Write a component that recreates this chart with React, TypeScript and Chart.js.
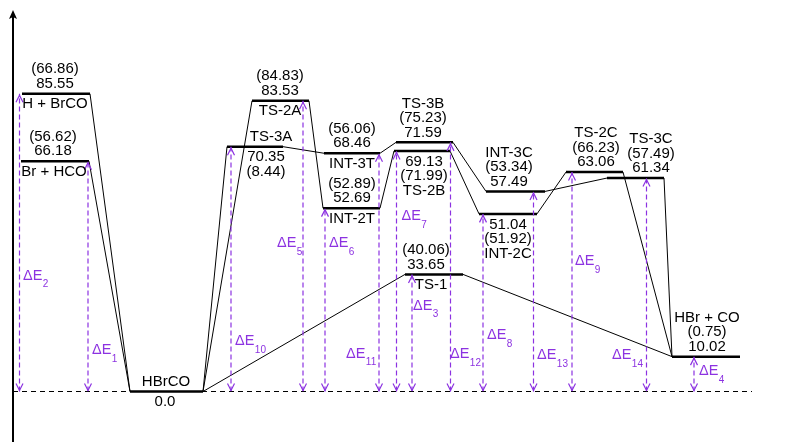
import React, { useEffect, useRef } from "react";
import { Chart, registerables } from "chart.js";
Chart.register(...registerables);

// ---- data ----
const levelNames = ["H + BrCO", "Br + HCO", "HBrCO", "TS-3A", "TS-2A", "INT-3T", "INT-2T", "TS-3B", "TS-2B", "TS-1", "INT-3C", "INT-2C", "TS-2C", "TS-3C", "HBr + CO"];
const levelStart = [22, 21, 130, 227, 252, 324, 323, 396, 394, 405, 486, 479, 566, 607, 672];
const levelEnd = [90, 89, 203, 283, 309, 380, 380, 453, 450, 463, 545, 537, 623, 664, 740];
const levelEnergy = [85.55, 66.18, 0.0, 70.35, 83.53, 68.46, 52.69, 71.59, 69.13, 33.65, 57.49, 51.04, 63.06, 61.34, 10.02];
const labelAbove: string[][] = [
  ["(66.86)", "85.55"],
  ["(56.62)", "66.18"],
  ["HBrCO"],
  ["TS-3A"],
  ["(84.83)", "83.53"],
  ["(56.06)", "68.46"],
  ["(52.89)", "52.69"],
  ["TS-3B", "(75.23)", "71.59"],
  [],
  ["(40.06)", "33.65"],
  ["INT-3C", "(53.34)", "57.49"],
  [],
  ["TS-2C", "(66.23)", "63.06"],
  ["TS-3C", "(57.49)", "61.34"],
  ["HBr + CO", "(0.75)", "10.02"],
];
const labelBelow: string[][] = [
  ["H + BrCO"],
  ["Br + HCO"],
  ["0.0"],
  ["70.35", "(8.44)"],
  ["TS-2A"],
  ["INT-3T"],
  ["INT-2T"],
  [],
  ["69.13", "(71.99)", "TS-2B"],
  ["TS-1"],
  [],
  ["51.04", "(51.92)", "INT-2C"],
  [],
  [],
  [],
];
const labelCenterAbove = [55, 53, 166, 271, 280, 352, 352, 423, 424, 426, 509, 508, 596, 651, 707];
const labelCenterBelow = [55, 54, 165, 266, 280, 352, 352, 423, 424, 431, 509, 508, 596, 651, 707];

// connectors: from right end of level A to left end of level B
const connFrom = [0, 1, 2, 2, 2, 4, 3, 5, 6, 7, 8, 10, 11, 12, 13, 9];
const connTo = [2, 2, 3, 4, 9, 6, 5, 7, 8, 10, 11, 13, 12, 14, 14, 14];

// ΔE arrows
const deltaSub = ["2", "1", "10", "5", "6", "11", "7", "3", "12", "8", "13", "9", "14", "4"];
const deltaX = [19.5, 88, 231, 303, 325, 379, 396.5, 412, 450.5, 483, 533.5, 572, 646.5, 694];
const deltaLevel = [0, 1, 3, 4, 6, 5, 8, 9, 7, 11, 10, 12, 13, 14];
const deltaLabelX = [23, 92, 235, 277, 329, 346, 401.5, 413, 450, 487, 537, 575, 612, 699];
const deltaLabelE = [33.2, 11.8, 14.4, 42.6, 42.6, 10.9, 50.3, 24.5, 10.7, 16.1, 10.4, 37.4, 10.4, 5.8];

const ZERO_LINE_START = 13;
const ZERO_LINE_END = 752;
const AXIS_X = 13;
const AXIS_TOP_E = 109.6;
const X_MIN = 0;
const X_MAX = 800;
const Y_MIN = -14.511;
const Y_MAX = 112.5;

const PURPLE = "rgb(140,50,225)";
const FONT = "'Liberation Sans', Arial, Helvetica, sans-serif";

export default function App() {
  const ref = useRef<HTMLCanvasElement | null>(null);
  useEffect(() => {
    if (!ref.current) return;
    const datasets: any[] = [];
    // zero dashed line
    datasets.push({
      data: [{ x: ZERO_LINE_START, y: 0 }, { x: ZERO_LINE_END, y: 0 }],
      borderColor: "#000", borderWidth: 1, borderDash: [5, 4], showLine: true, pointRadius: 0,
    });
    // ΔE arrows
    deltaX.forEach((x, i) => {
      datasets.push({
        data: [{ x, y: 0 }, { x, y: levelEnergy[deltaLevel[i]] }],
        borderColor: PURPLE, borderWidth: 1.2, borderDash: [5, 3], showLine: true, pointRadius: 0,
      });
    });
    // connectors
    connFrom.forEach((a, i) => {
      const b = connTo[i];
      datasets.push({
        data: [{ x: levelEnd[a], y: levelEnergy[a] }, { x: levelStart[b], y: levelEnergy[b] }],
        borderColor: "#000", borderWidth: 1, showLine: true, pointRadius: 0,
      });
    });
    // levels
    levelNames.forEach((_, i) => {
      datasets.push({
        data: [{ x: levelStart[i], y: levelEnergy[i] }, { x: levelEnd[i], y: levelEnergy[i] }],
        borderColor: "#000", borderWidth: 2.5, showLine: true, pointRadius: 0, borderCapStyle: "butt",
      });
    });

    const overlay = {
      id: "overlay",
      afterDatasetsDraw(chart: any) {
        const ctx = chart.ctx as CanvasRenderingContext2D;
        const xs = chart.scales.x;
        const ys = chart.scales.y;
        ctx.save();
        // y axis with arrow
        const ax = xs.getPixelForValue(AXIS_X);
        const top = ys.getPixelForValue(AXIS_TOP_E);
        ctx.strokeStyle = "#000";
        ctx.lineWidth = 2;
        ctx.beginPath();
        ctx.moveTo(ax, chart.chartArea.bottom);
        ctx.lineTo(ax, top + 6);
        ctx.stroke();
        ctx.fillStyle = "#000";
        ctx.beginPath();
        ctx.moveTo(ax, top);
        ctx.lineTo(ax - 4, top + 9);
        ctx.lineTo(ax, top + 7);
        ctx.lineTo(ax + 4, top + 9);
        ctx.closePath();
        ctx.fill();

        // ΔE arrowheads
        ctx.strokeStyle = PURPLE;
        ctx.lineWidth = 1.2;
        deltaX.forEach((x, i) => {
          const px = xs.getPixelForValue(x);
          const y0 = ys.getPixelForValue(0);
          const y1 = ys.getPixelForValue(levelEnergy[deltaLevel[i]]) + 1.5;
          ctx.beginPath();
          ctx.moveTo(px - 3.5, y1 + 7);
          ctx.lineTo(px, y1);
          ctx.lineTo(px + 3.5, y1 + 7);
          ctx.stroke();
          ctx.beginPath();
          ctx.moveTo(px - 3.5, y0 - 8);
          ctx.lineTo(px, y0 - 1);
          ctx.lineTo(px + 3.5, y0 - 8);
          ctx.stroke();
        });

        // ΔE labels
        ctx.fillStyle = PURPLE;
        ctx.textBaseline = "middle";
        ctx.textAlign = "left";
        deltaSub.forEach((s, i) => {
          const px = xs.getPixelForValue(deltaLabelX[i]);
          const py = ys.getPixelForValue(deltaLabelE[i]);
          ctx.font = `14.5px ${FONT}`;
          ctx.fillText("\u0394E", px, py);
          const w = ctx.measureText("\u0394E").width;
          ctx.font = `10px ${FONT}`;
          ctx.fillText(s, px + w + 0.5, py + 8.5);
        });

        // level labels
        ctx.fillStyle = "#000";
        ctx.textAlign = "center";
        ctx.font = `15px ${FONT}`;
        const step = 14.5;
        levelNames.forEach((_, i) => {
          const py = ys.getPixelForValue(levelEnergy[i]);
          const ab = labelAbove[i];
          const cxA = xs.getPixelForValue(labelCenterAbove[i]);
          ab.forEach((t, j) => {
            ctx.fillText(t, cxA, py - 10 - (ab.length - 1 - j) * step);
          });
          const be = labelBelow[i];
          const cxB = xs.getPixelForValue(labelCenterBelow[i]);
          be.forEach((t, j) => {
            ctx.fillText(t, cxB, py + 10.5 + j * step);
          });
        });
        ctx.restore();
      },
    };

    const chart = new Chart(ref.current, {
      type: "scatter",
      data: { datasets },
      options: {
        responsive: false,
        animation: false,
        events: [],
        layout: { padding: 0 },
        plugins: { legend: { display: false }, tooltip: { enabled: false } },
        scales: {
          x: { type: "linear", min: X_MIN, max: X_MAX, display: false },
          y: { type: "linear", min: Y_MIN, max: Y_MAX, display: false },
        },
      },
      plugins: [overlay],
    } as any);
    return () => chart.destroy();
  }, []);
  return (
    <div style={{ position: "fixed", left: 0, top: 0, width: 800, height: 442, background: "#fff" }}>
      <canvas ref={ref} width={800} height={442} style={{ width: 800, height: 442 }} />
    </div>
  );
}
